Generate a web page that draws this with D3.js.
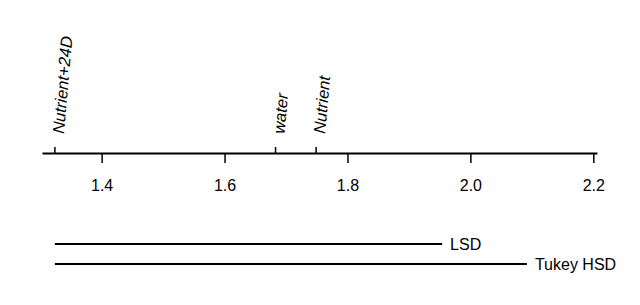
<!DOCTYPE html>
<html>
<head>
<meta charset="utf-8">
<script src="https://cdn.jsdelivr.net/npm/d3@7"></script>
<style>
  body { margin: 0; background: #fff; }
  svg { display: block; font-family: "Liberation Sans", Arial, sans-serif; }
</style>
</head>
<body>
<svg id="chart"></svg>
<script>
// treatment means
let groups = ["Nutrient+24D", "water", "Nutrient"];
let means = [1.324, 1.683, 1.749];

// axis ticks and extent
let tickValues = [1.4, 1.6, 1.8, 2.0, 2.2];
let axisExtent = [1.303, 2.206];

// least significant difference intervals
let intervalNames = ["LSD", "Tukey HSD"];
let intervalWidths = [0.630, 0.768];

function drawChart(){
    let config = chartConfig();
    let xScale = d3.scaleLinear()
        .domain(axisExtent)
        .range([42, 597]);
    drawAxis(xScale, config);
    drawMeans(xScale, config);
    drawIntervals(xScale, config);
}

function chartConfig(){
    let width = 640;
    let height = 305;
    let axisY = 153;
    let container = d3.select("#chart")
        .attr("width", width)
        .attr("height", height);
    return {width, height, axisY, container};
}

function drawAxis(xScale, config){
    let {container, axisY} = config;
    let axis = d3.axisBottom(xScale)
        .tickValues(tickValues)
        .tickFormat(d3.format(".1f"))
        .tickSize(10)
        .tickSizeOuter(0)
        .tickPadding(17);
    let g = container.append("g")
        .attr("transform", `translate(0,${axisY})`)
        .call(axis);
    g.select(".domain").attr("stroke", "#000").attr("stroke-width", 2);
    g.selectAll(".tick line").attr("stroke", "#000").attr("stroke-width", 1.5);
    g.selectAll(".tick text")
        .attr("fill", "#000")
        .style("font-size", "16px")
        .style("font-family", "'Liberation Sans', Arial, sans-serif");
}

function drawMeans(xScale, config){
    let {container, axisY} = config;
    let data = groups.map((g, i) => ({name: g, value: means[i]}));
    container.selectAll(".mean-tick").data(data).enter().append("line")
        .attr("x1", d => xScale(d.value))
        .attr("x2", d => xScale(d.value))
        .attr("y1", axisY)
        .attr("y2", axisY - 6)
        .attr("stroke", "#000")
        .attr("stroke-width", 1.5);
    container.selectAll(".mean-label").data(data).enter().append("text")
        .attr("transform", d => `translate(${xScale(d.value) + 9},${axisY - 19}) rotate(-85)`)
        .attr("font-size", 16.5)
        .attr("font-style", "italic")
        .attr("fill", "#000")
        .text(d => d.name);
}

function drawIntervals(xScale, config){
    let {container} = config;
    let start = d3.min(means);
    let rows = [244, 264];
    let data = intervalNames.map((n, i) => ({name: n, width: intervalWidths[i], y: rows[i]}));
    container.selectAll(".interval").data(data).enter().append("line")
        .attr("x1", xScale(start))
        .attr("x2", d => xScale(start + d.width))
        .attr("y1", d => d.y)
        .attr("y2", d => d.y)
        .attr("stroke", "#000")
        .attr("stroke-width", 2);
    container.selectAll(".interval-label").data(data).enter().append("text")
        .attr("x", d => xScale(start + d.width) + 8)
        .attr("y", d => d.y)
        .attr("dy", "0.36em")
        .attr("font-size", 16)
        .attr("fill", "#000")
        .text(d => d.name);
}

drawChart();
</script>
</body>
</html>
